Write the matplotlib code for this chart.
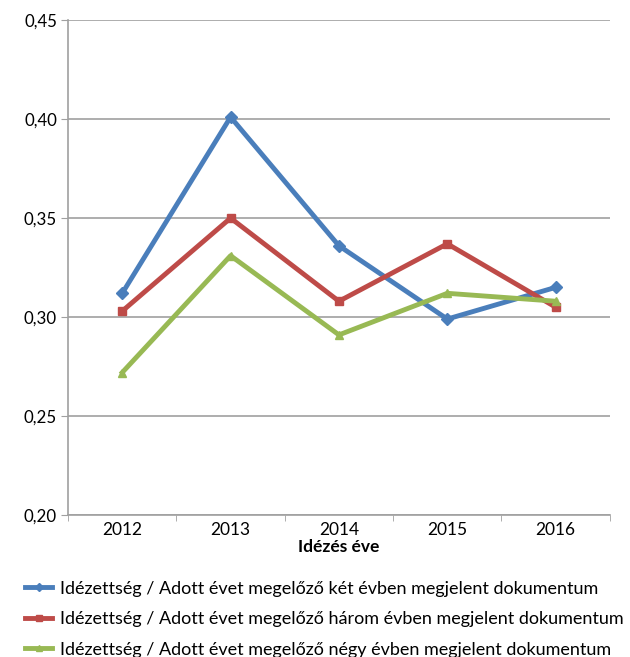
import numpy as np
import matplotlib
matplotlib.use("Agg")
import matplotlib.pyplot as plt
from matplotlib.ticker import FuncFormatter, FixedLocator

plt.rcParams["font.family"] = ["Lato", "DejaVu Sans"]

years = ["2012", "2013", "2014", "2015", "2016"]
ket_ev = [0.312, 0.401, 0.336, 0.299, 0.315]
harom_ev = [0.303, 0.350, 0.308, 0.337, 0.305]
negy_ev = [0.272, 0.331, 0.291, 0.312, 0.308]
labels = [
    "Idézettség / Adott évet megelőző két évben megjelent dokumentum",
    "Idézettség / Adott évet megelőző három évben megjelent dokumentum",
    "Idézettség / Adott évet megelőző négy évben megjelent dokumentum",
]
colors = ["#4a7ebb", "#be4b48", "#98b954"]
markers = ["D", "s", "^"]

fig = plt.figure(figsize=(6.3, 6.57), dpi=100)
ax = fig.add_axes([0.108, 0.216, 0.86, 0.7535])

x = np.arange(len(years))
lines = []
for vals, c, m, lab in zip([ket_ev, harom_ev, negy_ev], colors, markers, labels):
    ln, = ax.plot(x, vals, color=c, lw=3.5, marker=m, ms=6, label=lab, zorder=3)
    lines.append(ln)

ax.set_xlim(-0.5, len(years) - 0.5)
ax.set_ylim(0.20, 0.45)
ax.set_yticks(np.arange(0.20, 0.451, 0.05))
ax.yaxis.set_major_formatter(FuncFormatter(lambda v, p: f"{v:.2f}".replace(".", ",")))
ax.grid(axis="y", color="#a0a0a0", lw=1.2)
ax.set_axisbelow(True)

ax.set_xticks(x)
ax.set_xticklabels(years)
ax.xaxis.set_minor_locator(FixedLocator(np.arange(-0.5, len(years), 1.0)))
ax.tick_params(axis="x", which="major", length=0, labelsize=12.5, pad=5)
ax.tick_params(axis="x", which="minor", length=4, color="#a0a0a0", direction="out")
ax.tick_params(axis="y", length=5, color="#a0a0a0", labelsize=12.2, pad=3)

for s in ["top", "right"]:
    ax.spines[s].set_visible(False)
for s in ["left", "bottom"]:
    ax.spines[s].set_color("#a0a0a0")
    ax.spines[s].set_linewidth(1.2)

ax.set_xlabel("Idézés éve", fontsize=12.5, fontweight="bold", labelpad=1)

# smaller markers in legend, like the original
for ln in lines:
    ln.set_markersize(4)
leg = fig.legend(handles=lines, loc="upper left", bbox_to_anchor=(0.04, 0.116),
                 frameon=False, fontsize=13, handlelength=1.5, handletextpad=0.45,
                 labelspacing=0.8, borderaxespad=0, borderpad=0)
for ln in lines:
    ln.set_markersize(6)

fig.savefig("out.png", dpi=100)
